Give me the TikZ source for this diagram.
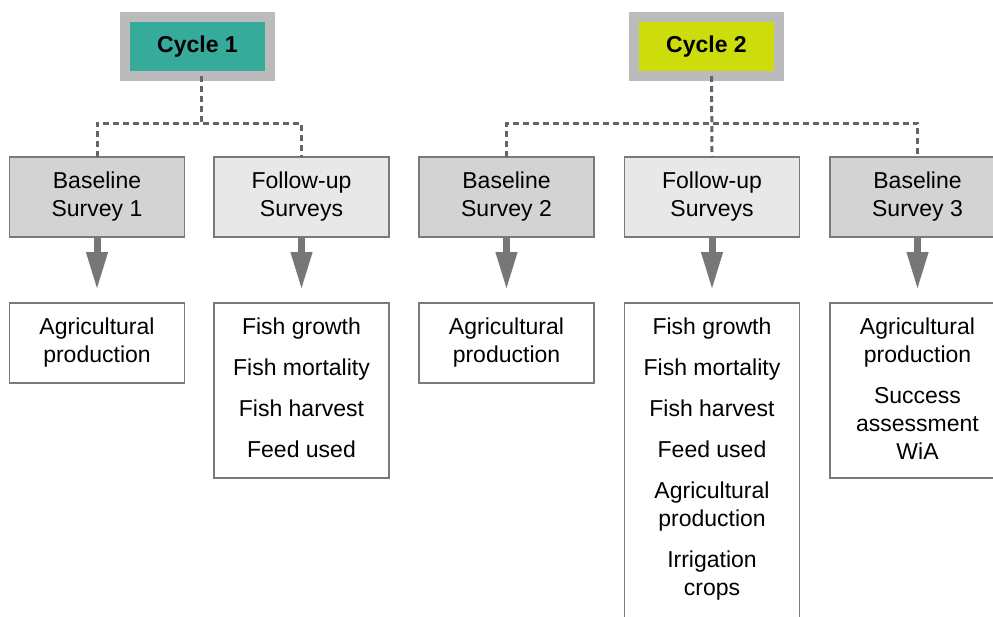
\documentclass[tikz,border=0pt]{standalone}
\usepackage{fontspec}
\setmainfont{Liberation Sans}
\usetikzlibrary{arrows.meta}
\definecolor{teal1}{HTML}{36AA9B}
\definecolor{lime1}{HTML}{CCDD0B}
\definecolor{frame1}{HTML}{BBBBBB}
\definecolor{basefill}{HTML}{D3D3D3}
\definecolor{fufill}{HTML}{E8E8E8}
\definecolor{edge1}{HTML}{7A7A7A}
\definecolor{arrowgray}{HTML}{777777}
\definecolor{dotgray}{HTML}{656565}
\begin{document}
\begin{tikzpicture}[x=1pt,y=-1pt,
 every node/.style={font=\fontsize{23}{28}\selectfont, inner sep=0pt, outer sep=0pt},
 cyclebox/.style={draw=frame1, line width=10pt, minimum width=145pt, minimum height=59pt, font=\fontsize{23}{28}\selectfont\bfseries},
 surveybox/.style={draw=edge1, line width=1.6pt, minimum width=175pt, minimum height=80pt, align=center},
 outbox/.style={draw=edge1, line width=1.6pt, minimum width=175pt, fill=white},
 outtext/.style={anchor=north, align=center},
 link/.style={draw=dotgray, line width=3pt, dash pattern=on 6pt off 4pt},
 flow/.style={draw=arrowgray, line width=7pt, -{Triangle[width=20pt,length=38pt]}, shorten >=13pt}
]
\useasboundingbox (0,0) rectangle (993,616);
\fill[white] (0,0) rectangle (993,616);
\clip (0,0) rectangle (993,616);

% cycle boxes
\node[cyclebox, fill=teal1] (c1) at (197.5,46.5) {Cycle 1};
\node[cyclebox, fill=lime1] (c2) at (706.5,46.5) {Cycle 2};

% survey boxes
\node[surveybox, fill=basefill] (b1) at (97,197) {Baseline\\Survey 1};
\node[surveybox, fill=fufill]   (f1) at (301.5,197) {Follow-up\\Surveys};
\node[surveybox, fill=basefill] (b2) at (506.5,197) {Baseline\\Survey 2};
\node[surveybox, fill=fufill]   (f2) at (712,197) {Follow-up\\Surveys};
\node[surveybox, fill=basefill] (b3) at (917.5,197) {Baseline\\Survey 3};

% output boxes
\node[outbox, minimum height=80pt]  (o1) at (97,343) {};
\node[outbox, minimum height=175pt] (o2) at (301.5,390.5) {};
\node[outbox, minimum height=80pt]  (o3) at (506.5,343) {};
\node[outbox, minimum height=340pt] (o4) at (712,473) {};
\node[outbox, minimum height=175pt] (o5) at (917.5,390.5) {};

\node[outtext] (t1) at ([yshift=-14.5pt]o1.north) {Agricultural\\production};
\node[outtext] (t2) at ([yshift=-14.5pt]o2.north) {Fish growth\\[13pt]Fish mortality\\[13pt]Fish harvest\\[13pt]Feed used};
\node[outtext] (t3) at ([yshift=-14.5pt]o3.north) {Agricultural\\production};
\node[outtext] (t4) at ([yshift=-14.5pt]o4.north) {Fish growth\\[13pt]Fish mortality\\[13pt]Fish harvest\\[13pt]Feed used\\[13pt]Agricultural\\production\\[13pt]Irrigation\\crops};
\node[outtext] (t5) at ([yshift=-14.5pt]o5.north) {Agricultural\\production\\[13pt]Success\\assessment\\WiA};

% dotted connectors
\coordinate (j1) at (201,123);
\coordinate (j2) at (711.5,123);
\draw[link] (c1.south -| j1) -- (j1);
\draw[link] (b1.north) |- (j1) -| (f1.north);
\draw[link] (c2.south -| j2) -- (f2.north);
\draw[link] (b2.north) |- (j2) -| (b3.north);

% arrows
\draw[flow] (b1.south) -- (o1.north);
\draw[flow] (f1.south) -- (o2.north);
\draw[flow] (b2.south) -- (o3.north);
\draw[flow] (f2.south) -- (o4.north);
\draw[flow] (b3.south) -- (o5.north);
\end{tikzpicture}
\end{document}
